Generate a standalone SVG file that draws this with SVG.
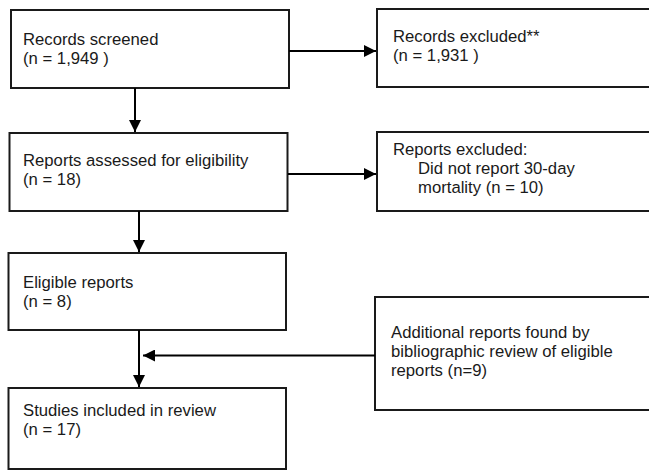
<svg xmlns="http://www.w3.org/2000/svg" width="649" height="470" viewBox="0 0 649 470">
<style>
.box{fill:#fff;stroke:#1a1a1a;stroke-width:2}
.t{font-family:"Liberation Sans",Arial,sans-serif;font-size:16.7px;fill:#1a1a1a}
.c{stroke:#000;stroke-width:2;fill:none}
</style>
<defs>
<marker id="ah" viewBox="0 0 10 10" refX="10" refY="5" markerWidth="6" markerHeight="6" markerUnits="strokeWidth" orient="auto">
<path d="M0,0 L10,5 L0,10 z" fill="#000"/>
</marker>
</defs>
<rect width="649" height="470" fill="#fff"/>
<g id="records-screened">
<rect class="box" x="11" y="10" width="278" height="78"/>
<text class="t" x="23" y="44.5">Records screened</text>
<text class="t" x="23" y="63.5">(n = 1,949 )</text>
</g>
<g id="records-excluded">
<rect class="box" x="377" y="9" width="290" height="78"/>
<text class="t" x="393" y="41.5">Records excluded**</text>
<text class="t" x="393" y="60.5">(n = 1,931 )</text>
</g>
<g id="reports-assessed">
<rect class="box" x="9.5" y="133" width="278" height="78"/>
<text class="t" x="23" y="166">Reports assessed for eligibility</text>
<text class="t" x="23" y="185">(n = 18)</text>
</g>
<g id="reports-excluded">
<rect class="box" x="377" y="132" width="290" height="79"/>
<text class="t" x="393" y="155">Reports excluded:</text>
<text class="t" x="418" y="174">Did not report 30-day</text>
<text class="t" x="418" y="193">mortality (n = 10)</text>
</g>
<g id="eligible-reports">
<rect class="box" x="8.5" y="253" width="277.5" height="77"/>
<text class="t" x="23" y="287.5">Eligible reports</text>
<text class="t" x="23" y="306.5">(n = 8)</text>
</g>
<g id="additional-reports">
<rect class="box" x="375" y="297" width="292" height="113"/>
<text class="t" x="391" y="338">Additional reports found by</text>
<text class="t" x="391" y="357">bibliographic review of eligible</text>
<text class="t" x="391" y="376">reports (n=9)</text>
</g>
<g id="studies-included">
<rect class="box" x="8.5" y="388" width="277.5" height="81"/>
<text class="t" x="23" y="416">Studies included in review</text>
<text class="t" x="23" y="435">(n = 17)</text>
</g>
<g id="connectors">
<line class="c" x1="135" y1="88" x2="135" y2="132" marker-end="url(#ah)"/>
<line class="c" x1="289" y1="51" x2="376" y2="51" marker-end="url(#ah)"/>
<line class="c" x1="288" y1="174" x2="376" y2="174" marker-end="url(#ah)"/>
<line class="c" x1="139" y1="211" x2="139" y2="252" marker-end="url(#ah)"/>
<line class="c" x1="139" y1="330" x2="139" y2="387" marker-end="url(#ah)"/>
<line class="c" x1="375" y1="355.5" x2="143" y2="355.5" marker-end="url(#ah)"/>
</g>
</svg>
